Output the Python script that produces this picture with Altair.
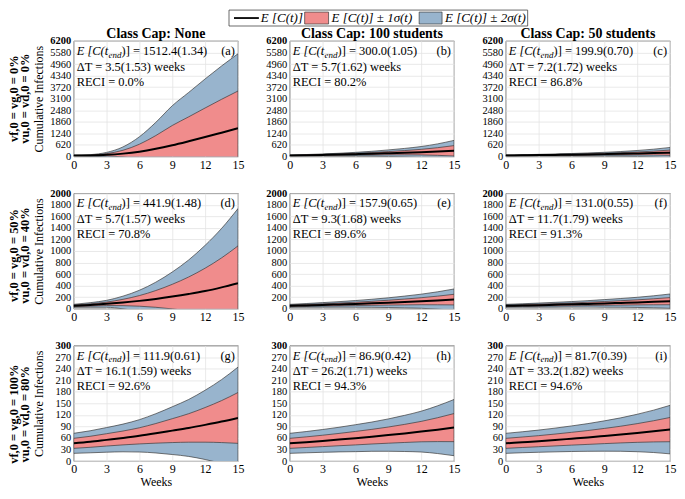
import altair as alt
import pandas as pd

# ---------------- data ----------------
weeks = [0, 1.5, 3, 4.5, 6, 7.5, 9, 10.5, 12, 13.5, 15]

mean_a = [45, 55, 85, 150, 255, 410, 600, 815, 1040, 1275, 1512]
sd_a = [8, 20, 65, 180, 400, 710, 1060, 1310, 1560, 1790, 2000]
mean_b = [50, 65, 82, 100, 122, 145, 172, 200, 230, 263, 300]
sd_b = [13, 18, 25, 35, 48, 65, 88, 115, 150, 205, 280]
mean_c = [50, 60, 70, 82, 94, 108, 123, 139, 158, 178, 200]
sd_c = [13, 16, 20, 25, 31, 39, 49, 62, 80, 105, 140]
mean_d = [50, 65, 85, 108, 136, 170, 210, 255, 306, 370, 442]
sd_d = [13, 20, 30, 55, 92, 145, 213, 295, 396, 510, 646]
mean_e = [50, 58, 66, 75, 84, 94, 105, 117, 130, 143, 158]
sd_e = [13, 16, 20, 24, 29, 35, 42, 51, 61, 75, 92]
mean_f = [50, 56, 62, 69, 76, 84, 92, 101, 110, 120, 131]
sd_f = [13, 15, 18, 21, 24, 28, 33, 38, 44, 52, 62]
mean_g = [46, 50, 55, 60, 65.5, 72, 79, 86, 94, 102.5, 112]
sd_g = [13, 14.3, 16, 18, 21, 25.5, 31, 37, 45, 54.5, 66]
mean_h = [46, 49, 52.3, 55.8, 59.4, 63.3, 67.4, 71.8, 76.5, 81.5, 86.9]
sd_h = [13, 13.8, 14.8, 16, 17.5, 19, 21, 23.5, 26.5, 31, 36.5]
mean_i = [46, 48.8, 51.6, 54.7, 58.0, 61.3, 65.0, 68.8, 72.9, 77.2, 81.7]
sd_i = [13, 13.6, 14.4, 15.4, 16.6, 18, 19.7, 21.7, 24.3, 27.5, 31.5]

means = [mean_a, mean_b, mean_c, mean_d, mean_e, mean_f, mean_g, mean_h, mean_i]
sds = [sd_a, sd_b, sd_c, sd_d, sd_e, sd_f, sd_g, sd_h, sd_i]

letters = ["(a)", "(b)", "(c)", "(d)", "(e)", "(f)", "(g)", "(h)", "(i)"]
e_end = ["1512.4(1.34)", "300.0(1.05)", "199.9(0.70)", "441.9(1.48)", "157.9(0.65)",
         "131.0(0.55)", "111.9(0.61)", "86.9(0.42)", "81.7(0.39)"]
delta_t = ["3.5(1.53)", "5.7(1.62)", "7.2(1.72)", "5.7(1.57)", "9.3(1.68)",
           "11.7(1.79)", "16.1(1.59)", "26.2(1.71)", "33.2(1.82)"]
reci = ["0.0%", "80.2%", "86.8%", "70.8%", "89.6%", "91.3%", "92.6%", "94.3%", "94.6%"]

col_titles = ["Class Cap:  None", "Class Cap:  100 students", "Class Cap:  50 students"]
row_labels = [["vf,0 = vg,0 = 0%", "vu,0 = vd,0 = 0%"],
              ["vf,0 = vg,0 = 50%", "vu,0 = vd,0 = 40%"],
              ["vf,0 = vg,0 = 100%", "vu,0 = vd,0 = 80%"]]
y_max = [6200, 2000, 300]
y_step = [620, 200, 30]
x_ticks = [0, 3, 6, 9, 12, 15]
legend_labels = ["E [C(t)]", "E [C(t)] ± 1σ(t)", "E [C(t)] ± 2σ(t)"]

# ---------------- styling ----------------
SERIF = "Liberation Serif"
RED = "#f08c8c"
BLUE = "#98b4cd"
EDGE = "#3a3a3a"
W, H = 165, 116
ONE = pd.DataFrame({"k": [0]})


def txt(s, x, y, size=12.5, align="left", style="normal", weight="normal", dy=0):
    return alt.Chart(ONE).mark_text(
        text=s, font=SERIF, fontSize=size, align=align, baseline="middle",
        fontStyle=style, fontWeight=weight, dy=dy, color="black"
    ).encode(x=alt.value(x), y=alt.value(y))


def panel(i):
    r, c = divmod(i, 3)
    df = pd.DataFrame({"week": weeks, "mean": means[i], "sd": sds[i]})
    base = alt.Chart(df).transform_calculate(
        lo1="datum.mean - datum.sd", hi1="datum.mean + datum.sd",
        lo2="datum.mean - 2*datum.sd", hi2="datum.mean + 2*datum.sd")
    x = alt.X("week:Q", scale=alt.Scale(domain=[0, 15], nice=False),
              axis=alt.Axis(values=x_ticks, title="Weeks" if r == 2 else None,
                            labelFlush=False))
    ymax = y_max[r]
    yscale = alt.Scale(domain=[0, ymax], nice=False)
    yaxis = alt.Axis(values=list(range(0, ymax + 1, y_step[r])), format="d",
                     title="Cumulative Infections" if c == 0 else None,
                     minExtent=26, maxExtent=26, labelOverlap=False, labelFontSize=10.5,
                     labelFontWeight={"condition": {"test": f"datum.value >= {ymax}", "value": "bold"},
                                      "value": "normal"})
    blue = base.mark_area(color=BLUE, stroke=EDGE, strokeWidth=0.7, clip=True,
                          interpolate="monotone").encode(
        x=x, y=alt.Y("lo2:Q", scale=yscale, axis=yaxis), y2="hi2:Q")
    red = base.mark_area(color=RED, stroke=EDGE, strokeWidth=0.7, clip=True,
                         interpolate="monotone").encode(
        x=x, y=alt.Y("lo1:Q", scale=yscale, axis=yaxis), y2="hi1:Q")
    line = base.mark_line(color="black", strokeWidth=2, clip=True,
                          interpolate="monotone").encode(
        x=x, y=alt.Y("mean:Q", scale=yscale, axis=yaxis))
    x0 = 3
    layers = [
        blue, red, line,
        txt("E [C(t", x0, 10, style="italic"),
        txt("end", x0 + 32, 10, size=9, style="italic", dy=4),
        txt(")] = " + e_end[i], x0 + 45, 10),
        txt("ΔT = " + delta_t[i] + " weeks", x0, 26),
        txt("RECI = " + reci[i], x0, 41),
        txt(letters[i], W - 3, 10, align="right"),
    ]
    ch = alt.layer(*layers).properties(width=W, height=H)
    if r == 0:
        ch = ch.properties(title=alt.TitleParams(text=col_titles[c], font=SERIF, fontSize=14,
                                                 fontWeight="bold", offset=-5, frame="group"))
    return ch


rows = []
for r in range(3):
    rows.append(alt.hconcat(*[panel(3 * r + c) for c in range(3)], spacing=18).properties(
        title=alt.TitleParams(text=row_labels[r], orient="left", font=SERIF, fontSize=12.5,
                              fontWeight="bold", anchor="middle", offset=1, lineHeight=11)))
grid = alt.vconcat(*rows, spacing=16)

# ---------------- legend ----------------
LX = -63
box = alt.Chart(ONE).mark_rect(fill="white", stroke="#444", strokeWidth=0.8).encode(
    x=alt.value(219 + LX), x2=alt.value(519 + LX), y=alt.value(0), y2=alt.value(16))
lrule = alt.Chart(ONE).mark_rule(color="black", strokeWidth=1.8).encode(
    x=alt.value(224 + LX), x2=alt.value(249 + LX), y=alt.value(8))
lred = alt.Chart(ONE).mark_rect(fill=RED, stroke=EDGE, strokeWidth=0.7).encode(
    x=alt.value(295 + LX), x2=alt.value(319 + LX), y=alt.value(2), y2=alt.value(14))
lblue = alt.Chart(ONE).mark_rect(fill=BLUE, stroke=EDGE, strokeWidth=0.7).encode(
    x=alt.value(410 + LX), x2=alt.value(433 + LX), y=alt.value(2), y2=alt.value(14))
legend = alt.layer(
    box, lrule, lred, lblue,
    txt(legend_labels[0], 251 + LX, 8, size=13, style="italic"),
    txt(legend_labels[1], 322 + LX, 8, size=13, style="italic"),
    txt(legend_labels[2], 436 + LX, 8, size=13, style="italic"),
).properties(width=520, height=16, view=alt.ViewBackground(stroke="transparent"))

chart = alt.vconcat(legend, grid, spacing=-1).properties(
    padding={"left": 0, "top": 0, "right": 0, "bottom": 0}
).configure_view(
    stroke="#262626", strokeWidth=0.8
).configure_axis(
    labelFont=SERIF, titleFont=SERIF, labelFontSize=12, titleFontSize=12,
    labelColor="black", titleColor="black", titleFontWeight="normal",
    gridColor="#e3e3e3", gridWidth=0.8, domain=False, ticks=False,
    labelPadding=3, titlePadding=2
)

chart.save("out.html", embed_options={"renderer": "svg", "actions": False})
